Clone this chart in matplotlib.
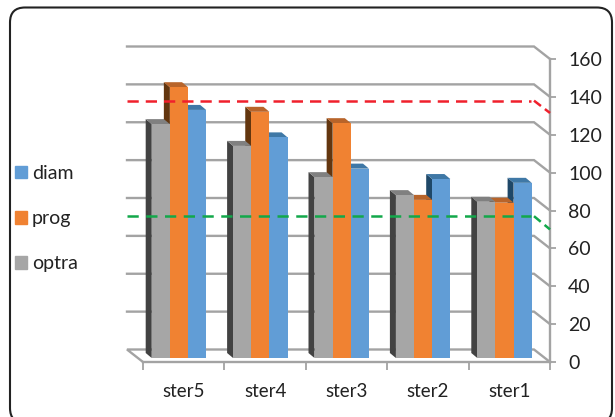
import matplotlib
matplotlib.use("Agg")
import matplotlib.pyplot as plt
from matplotlib.patches import Polygon, Patch, FancyBboxPatch

plt.rcParams['font.family'] = ['Lato', 'DejaVu Sans']

categories = ["ster5", "ster4", "ster3", "ster2", "ster1"]
optra = [123.5, 112, 95.5, 86, 82.5]
prog = [143, 130, 124, 83.5, 82]
diam = [131, 116.5, 100, 94.5, 92.5]
yticks = [0, 20, 40, 60, 80, 100, 120, 140, 160]
red_limit = 131.5
green_limit = 70

W, H = 615, 417
# front plane of the fake 3d box, in pixels
left, right, bottom, top = 143, 550, 362, 59
px_x = 5.0 / (right - left)
px_y = 160.0 / (bottom - top)

# depth offsets in data units
back_dx, back_dy = 16 * px_x, 12.5 * px_y
bar_dx, bar_dy = 5 * px_x, 4 * px_y
side_dx, side_dy = 6 * px_x, 5 * px_y
bar_w = 18.15 * px_x
bar_start = 13.7 * px_x

fig = plt.figure(figsize=(W / 100, H / 100), dpi=100)
ax = fig.add_axes([left / W, 1 - bottom / H, (right - left) / W, (bottom - top) / H])
ax.set_xlim(0, 5)
ax.set_ylim(0, 160)
ax.patch.set_alpha(0)

# rounded frame, bottom edge runs off the picture
frame = FancyBboxPatch((10, -6), 602, 415.5, boxstyle="round,pad=0,rounding_size=15",
                       transform=None, fc="white", ec="#222222", lw=1.5, zorder=-5)
fig.patches.append(frame)

grid_col = "#a3a3a3"
for v in yticks:
    xs = [-back_dx, 5 - back_dx, 5]
    ys = [v + back_dy, v + back_dy, v]
    if v == 0:
        xs = [0] + xs
        ys = [0] + ys
    ax.plot(xs, ys, color=grid_col, lw=1.7, zorder=1, clip_on=False, solid_joinstyle="miter")

series = [
    (diam, 2, "#619dd6", "#1f4868", "#3f78a6"),
    (prog, 1, "#f08232", "#63360f", "#b8642a"),
    (optra, 0, "#a6a6a6", "#424242", "#808080"),
]

for i in range(5):
    # blue first so the nearer-left bars cover it
    for vals, pos, col, side_col, top_col in series:
        x0 = i + bar_start - bar_dx + pos * bar_w
        h = vals[i] + bar_dy
        x1 = x0 + bar_w
        ax.add_patch(Polygon([(x0, bar_dy), (x0 - side_dx, bar_dy + side_dy),
                              (x0 - side_dx, h + side_dy), (x0, h)],
                             fc=side_col, ec="none", zorder=2, clip_on=False))
        ax.add_patch(Polygon([(x0, h), (x0 - side_dx, h + side_dy),
                              (x1 - side_dx, h + side_dy), (x1, h)],
                             fc=top_col, ec="none", zorder=2, clip_on=False))
        ax.bar(x0, vals[i], width=bar_w, bottom=bar_dy, align="edge", color=col, zorder=2, clip_on=False)

# target lines on top of everything
ax.plot([-back_dx, 5 - back_dx - 3 * px_x], [red_limit + 6.5, red_limit + 6.5],
        color="#f0202c", lw=1.8, ls=(0, (4.5, 2.8)), zorder=5, clip_on=False)
ax.plot([5 - back_dx, 5], [red_limit + 6.5, red_limit], color="#f0202c", lw=1.8,
        ls=(0, (3.5, 2)), zorder=5, clip_on=False)
ax.plot([-back_dx, 5 - back_dx - 3 * px_x], [green_limit + 7, green_limit + 7],
        color="#12a84a", lw=1.8, ls=(0, (4.5, 3)), zorder=5, clip_on=False)
ax.plot([5 - back_dx, 5], [green_limit + 7, green_limit], color="#12a84a", lw=1.8,
        ls=(0, (3.5, 2)), zorder=5, clip_on=False)

for s in ["left", "top"]:
    ax.spines[s].set_visible(False)
ax.spines["right"].set_color(grid_col)
ax.spines["bottom"].set_color(grid_col)
ax.spines["right"].set_linewidth(1.7)
ax.spines["bottom"].set_linewidth(1.7)

ax.yaxis.tick_right()
ax.set_yticks(yticks)
ax.tick_params(axis="y", length=4, width=1.3, color=grid_col, labelsize=14, pad=9, labelcolor="#222222")
ax.set_xticks(range(6))
ax.set_xticklabels([""] * 6)
ax.set_xticks([i + 0.5 for i in range(5)], minor=True)
ax.set_xticklabels(categories, minor=True)
ax.tick_params(axis="x", which="major", length=6, width=1.3, color=grid_col)
ax.tick_params(axis="x", which="minor", length=0, labelsize=13.5, pad=15, labelcolor="#222222")

handles = [Patch(color="#619dd6", label="diam"), Patch(color="#f08232", label="prog"),
           Patch(color="#a6a6a6", label="optra")]
fig.legend(handles=handles, loc="upper left", bbox_to_anchor=(15 / W, 1 - 165 / H),
           frameon=False, fontsize=14, handlelength=0.62, handleheight=0.62, handletextpad=0.26,
           labelspacing=1.45, borderpad=0, borderaxespad=0, labelcolor="#222222")

fig.savefig("out.png", dpi=100)
